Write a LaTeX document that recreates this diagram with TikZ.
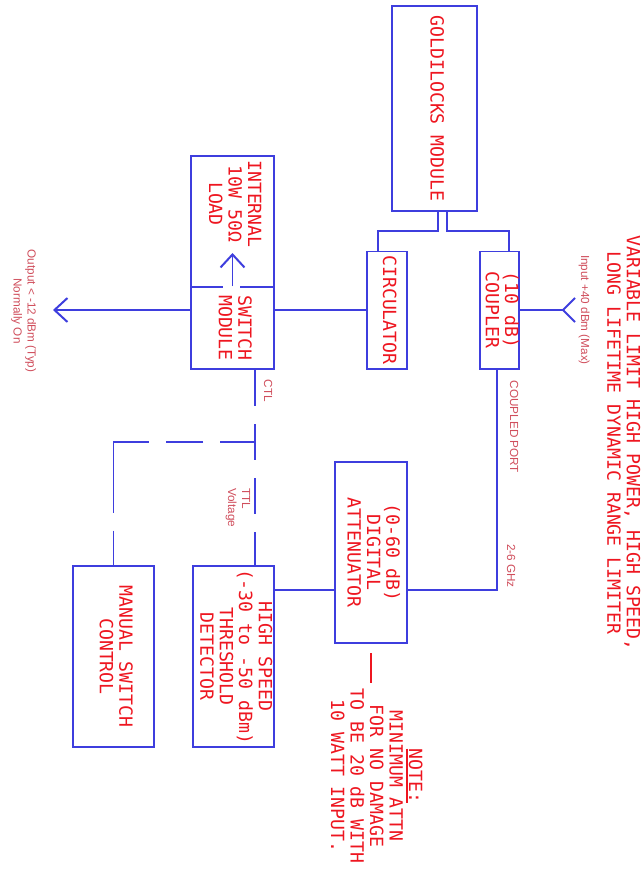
\documentclass[tikz,border=0pt]{standalone}
\usepackage{fontspec}
\setmainfont{Liberation Sans}
\newfontfamily\cadfont{DejaVu Sans Mono}
\usepackage{xcolor}
\usetikzlibrary{arrows.meta}

\definecolor{cadblue}{RGB}{62,62,222}
\definecolor{cadred}{RGB}{238,22,32}
\definecolor{cadpink}{RGB}{208,78,92}

% rotated (top to bottom) multi-line text
\newcommand{\vtext}[2][c]{\rotatebox{-90}{\begin{tabular}{@{}#1@{}}#2\end{tabular}}}
% thick underline
\newcommand{\thickul}[1]{\setbox0\hbox{#1}\hbox{\rlap{\copy0}\rule[-2.4pt]{\wd0}{1.3pt}}}

\tikzset{
  blk/.style={draw=cadblue, line width=1.7pt, inner sep=0pt, text=cadred,
    font=\cadfont\fontsize{15.5}{16.6}\selectfont},
  big/.style={inner sep=0pt, text=cadred, font=\cadfont\fontsize{15.5}{16.6}\selectfont},
  tag/.style={inner sep=0pt, text=cadpink, font=\fontsize{10}{12}\selectfont},
  wire/.style={draw=cadblue, line width=1.7pt},
  barb/.style={-{Straight Barb[length=0.39cm, width=0.72cm]}},
}

\begin{document}
% coordinates are in pixels of the drawing, y running downwards
\begin{tikzpicture}[x=0.03cm, y=-0.03cm]
  \fill[white] (0,0) rectangle (643,872);
  \useasboundingbox (0,0) rectangle (643,872);

  % title
  \node[big] (title) at (621,443) {\vtext{VARIABLE LIMIT HIGH POWER, HIGH SPEED,\\LONG LIFETIME DYNAMIC RANGE LIMITER}};

  % blocks
  \node[blk, minimum width=2.55cm, minimum height=6.15cm] (gold) at (434.5,108.5) {\vtext{GOLDILOCKS MODULE}};
  \node[blk, minimum width=1.2cm, minimum height=3.51cm] (circ) at (387,310) {\vtext{CIRCULATOR}};
  \node[blk, minimum width=1.17cm, minimum height=3.51cm] (coup) at (499.5,310) {\vtext{(10 dB)\\COUPLER}};
  \node[blk, minimum width=2.49cm, minimum height=3.93cm] (load) at (232.5,221.5) {};
  \node[big] (loadtxt) at (232.5,204) {\vtext{INTERNAL\\10W 50Ω\\LOAD}};
  \node[blk, minimum width=2.49cm, minimum height=2.46cm] (sw) at (232.5,328) {\vtext{SWITCH\\MODULE}};
  \node[blk, minimum width=2.16cm, minimum height=5.43cm] (att) at (371,552.5) {\vtext{(0-60 dB)\\DIGITAL\\ATTENUATOR}};
  \node[blk, minimum width=2.43cm, minimum height=5.43cm] (det) at (233.5,656.5) {\vtext{HIGH SPEED\\(-30 to -50 dBm)\\THRESHOLD\\DETECTOR}};
  \node[blk, minimum width=2.43cm, minimum height=5.43cm] (man) at (113.5,656.5) {\vtext{MANUAL SWITCH\\CONTROL}};

  % note
  \node[big] (note) at (374,776) {\vtext{\thickul{NOTE:}\\MINIMUM ATTN\\FOR NO DAMAGE\\TO BE 20 dB WITH\\10 WATT INPUT.}};
  \draw[draw=cadred, line width=1.3pt] ([yshift=-0.27cm]att.south) -- ([yshift=0.15cm]att.south |- note.north);

  % ports
  \coordinate (in) at (563,310);
  \coordinate (out) at (53,310);
  \coordinate (tee) at (255,442);

  % rf path
  \draw[wire] ([xshift=0.105cm]gold.south) -- ++(0,19) -| ([xshift=-0.27cm]circ.north);
  \draw[wire] ([xshift=0.375cm]gold.south) -- ++(0,19) -| ([xshift=0.285cm]coup.north);
  \draw[wire] (coup.east) -- (in);
  \draw[wire] (in) -- ++(12,-12);
  \draw[wire] (in) -- ++(12,12);
  \draw[wire] (circ.west) -- (circ.west -| sw.east);
  \draw[wire, barb] (circ.west -| sw.west) -- (out);

  % load arrow through the gap in the divider
  \draw[white, line width=2.8pt] ([xshift=-0.285cm]sw.north) -- ([xshift=0.225cm]sw.north);
  \draw[wire, barb] (sw.north) -- ++(0,-33);

  % coupled port and detector loop
  \draw[wire] ([yshift=-1.11cm]att.east) -| ([xshift=-0.075cm]coup.south);
  \draw[wire] ([yshift=2cm]det.east) -- ([yshift=2cm]det.east -| att.west);

  % control lines
  \draw[wire, dash pattern=on 1.08cm off 0.54cm] ([xshift=0.675cm]sw.south) -- ([xshift=0.675cm]sw.south |- det.north);
  \draw[wire, dash pattern=on 1.05cm off 0.51cm on 1.11cm off 0.51cm on 3.18cm off 0.54cm on 1.3cm] (tee) -| (man.north);

  % small labels
  \node[tag] (inlbl) at (584,310) {\vtext{Input +40 dBm (Max)}};
  \node[tag] (cplbl) at (513,427) {\vtext{COUPLED PORT}};
  \node[tag] (ghz) at (510,566) {\vtext{2-6 GHz}};
  \node[tag] (ctl) at (267,391) {\vtext{CTL}};
  \node[tag, anchor=north] (ttl) at (238,488) {\vtext[l]{TTL\\Voltage}};
  \node[tag] (outlbl) at (23.5,311) {\vtext{Output < -12 dBm (Typ)\\Normally On}};
\end{tikzpicture}
\end{document}
